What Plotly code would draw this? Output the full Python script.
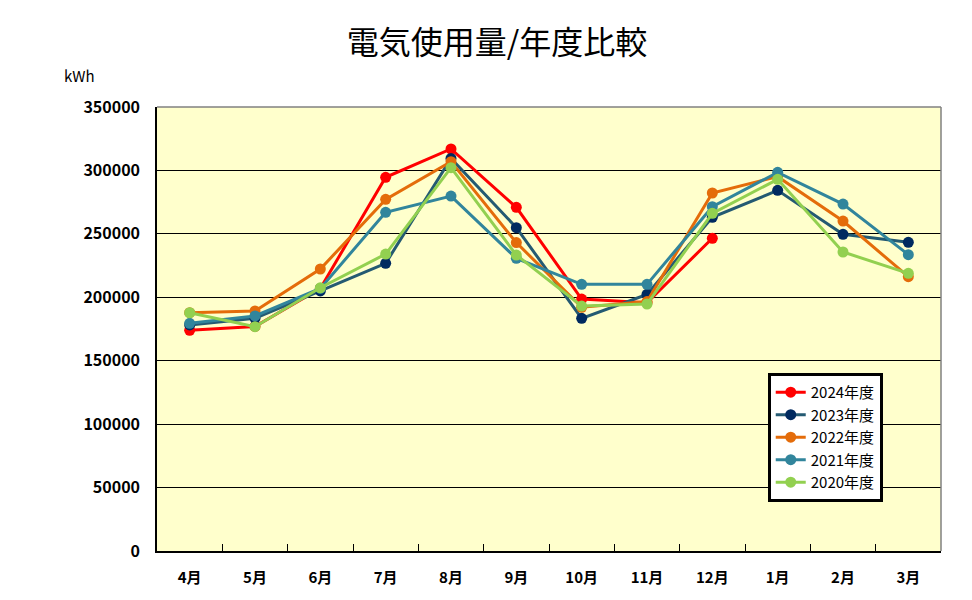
import plotly.graph_objects as go

months = ["4月", "5月", "6月", "7月", "8月", "9月", "10月", "11月", "12月", "1月", "2月", "3月"]
y2024 = [174000, 177000, 207000, 294600, 316900, 270900, 198600, 195700, 246500, None, None, None]
y2023 = [178200, 183400, 205000, 226800, 309500, 254900, 183400, 202300, 263000, 284300, 249600, 243300]
y2022 = [187900, 189200, 222300, 277200, 306900, 243100, 192100, 196600, 282200, 295100, 260100, 216200]
y2021 = [179500, 185300, 207000, 267000, 279800, 230700, 210200, 210200, 271400, 298500, 273500, 233600]
y2020 = [187800, 176800, 207500, 234100, 302200, 233300, 193100, 194700, 266200, 293000, 235700, 218900]
series_names = ["2024年度", "2023年度", "2022年度", "2021年度", "2020年度"]
y_ticks = [0, 50000, 100000, 150000, 200000, 250000, 300000, 350000]

series = [y2024, y2023, y2022, y2021, y2020]
line_colors = ["#FF0000", "#245A72", "#E46C0A", "#31859C", "#92D050"]
marker_colors = ["#FF0000", "#002A60", "#E46C0A", "#31859C", "#92D050"]

FONT = "Noto Sans CJK JP"

fig = go.Figure()
for name, vals, lc, mc in zip(series_names, series, line_colors, marker_colors):
    fig.add_trace(go.Scatter(
        x=months, y=vals, name=name, mode="lines+markers",
        line=dict(color=lc, width=3),
        marker=dict(color=mc, size=11),
        connectgaps=False,
    ))

fig.update_layout(
    width=972, height=600,
    margin=dict(l=149, r=39, t=99, b=57, autoexpand=False),
    paper_bgcolor="white",
    plot_bgcolor="#FFFFCC",
    font=dict(family=FONT, color="black"),
    title=dict(text="電気使用量/年度比較", x=0.503, xanchor="center",
               y=0.942, yanchor="middle", font=dict(size=32, family=FONT, color="black")),
    showlegend=True,
    legend=dict(x=0.779, y=0.401, xanchor="left", yanchor="top",
                bgcolor="white", bordercolor="black", borderwidth=3,
                font=dict(size=15, family=FONT, color="black"),
                tracegroupgap=0, itemwidth=30),
    xaxis=dict(type="category", categoryorder="array", categoryarray=months,
               range=[-0.5, len(months) - 0.5],
               showline=True, linecolor="black", linewidth=1.5,
               ticks="inside", tickson="boundaries", ticklen=7, tickcolor="black",
               showgrid=False, ticklabelstandoff=12, automargin=False,
               tickfont=dict(size=15, family=FONT, color="black", weight="bold")),
    yaxis=dict(range=[0, 350000], tickvals=y_ticks, ticktext=[str(v) for v in y_ticks],
               showline=True, linecolor="black", linewidth=1.5,
               showgrid=True, gridcolor="black", gridwidth=1, zeroline=False,
               ticks="", ticklabelstandoff=12, automargin=False,
               tickfont=dict(size=16, family=FONT, color="black", weight="bold")),
    annotations=[dict(text="kWh", xref="paper", yref="paper", x=-0.121, y=1.072,
                      xanchor="left", yanchor="middle", showarrow=False,
                      font=dict(size=15, family=FONT, color="black"))],
    shapes=[
        dict(type="line", xref="paper", yref="paper", x0=0, x1=1, y0=1, y1=1,
             line=dict(color="#808080", width=1.5), layer="above"),
        dict(type="line", xref="paper", yref="paper", x0=1, x1=1, y0=0, y1=1,
             line=dict(color="#808080", width=1.5), layer="above"),
    ],
)

fig.write_html("out.html")
